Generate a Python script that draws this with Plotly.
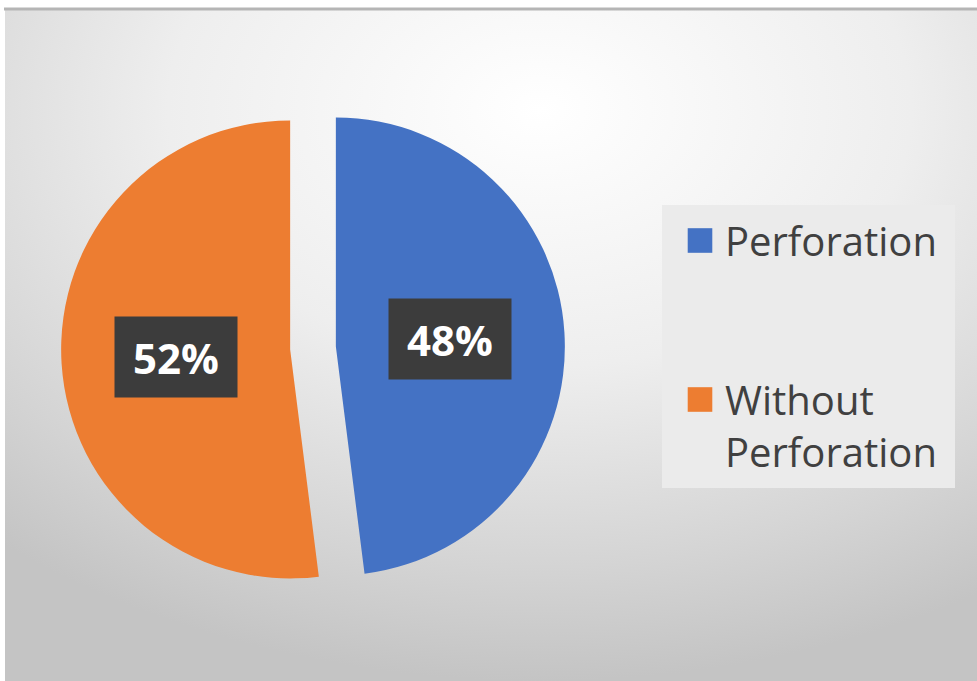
import base64
import math
import plotly.graph_objects as go

# ---- data ----
categories = ["Perforation", "Without Perforation"]
legend_labels = ["Perforation<br> <br> ", "Without<br>Perforation"]
values = [48, 52]
colors = ["#4472C4", "#ED7D31"]

W, H = 977, 681

# pie geometry (pixels)
cx, cy, r_px, pull = 313, 348, 229, 0.10
half = r_px * (1 + pull)

fig = go.Figure()
fig.add_trace(go.Pie(
    labels=legend_labels,
    values=values,
    customdata=categories,
    hovertemplate="%{customdata}: %{percent}<extra></extra>",
    marker=dict(colors=colors, line=dict(width=0)),
    sort=False,
    direction="clockwise",
    rotation=0,
    pull=[pull, pull],
    textinfo="none",
    domain=dict(x=[(cx - half) / W, (cx + half) / W],
                y=[1 - (cy + half) / H, 1 - (cy - half) / H]),
))

# data labels (boxes) placed at the middle of each slice
total = sum(values)
start = 0.0
for v in values:
    mid = (start + v / 2) / total * 2 * math.pi
    start += v
    d = 0.5 * r_px + pull * r_px
    px = cx + d * math.sin(mid)
    py = cy - d * math.cos(mid)
    fig.add_annotation(
        x=px / W, y=1 - py / H, xref="paper", yref="paper",
        xanchor="center", yanchor="middle",
        text="<b>%d%%</b>" % round(v / total * 100),
        showarrow=False, font=dict(family="Open Sans", size=42, color="white"),
        bgcolor="#3c3c3c", width=120, height=78, align="center", valign="middle",
    )

# background gradient
svg = """<svg xmlns='http://www.w3.org/2000/svg' width='972' height='672' viewBox='0 0 972 672' preserveAspectRatio='none'>
<defs><radialGradient id='g' cx='55%' cy='15%' r='85%' fx='55%' fy='15%'>
<stop offset='0' stop-color='#ffffff'/><stop offset='0.45' stop-color='#eeeeee'/>
<stop offset='0.8' stop-color='#d4d4d4'/><stop offset='1' stop-color='#c4c4c4'/></radialGradient></defs>
<rect width='972' height='672' fill='url(#g)'/></svg>"""
src = "data:image/svg+xml;base64," + base64.b64encode(svg.encode()).decode()

fig.update_layout(
    width=W, height=H,
    margin=dict(l=0, r=0, t=0, b=0),
    paper_bgcolor="white",
    images=[dict(source=src, xref="paper", yref="paper", x=5 / W, y=1 - 9 / H,
                 sizex=1 - 5 / W, sizey=1 - 9 / H, xanchor="left", yanchor="top",
                 sizing="stretch", layer="below")],
    shapes=[
        dict(type="line", xref="paper", yref="paper", x0=4 / W, x1=1,
             y0=1 - 9 / H, y1=1 - 9 / H, line=dict(color="#b5b5b5", width=3)),
        dict(type="rect", xref="paper", yref="paper", x0=662 / W, x1=955 / W,
             y0=1 - 488 / H, y1=1 - 205 / H, fillcolor="#ebebeb",
             line=dict(width=0), layer="below"),
    ],
    showlegend=True,
    legend=dict(
        x=662 / W, y=1 - 208 / H, xanchor="left", yanchor="top",
        bgcolor="rgba(0,0,0,0)", borderwidth=0,
        font=dict(family="Open Sans", size=40, color="#404040"),
        valign="top", itemclick=False, itemdoubleclick=False, itemwidth=53,
    ),
)

post = """
document.body.style.margin='0';
document.querySelectorAll('.legendpoints path').forEach(function(p){
  p.setAttribute('transform','translate(38,0) scale(2.05)');
});
"""
fig.write_html("out.html", post_script=post, config={"displayModeBar": False})
